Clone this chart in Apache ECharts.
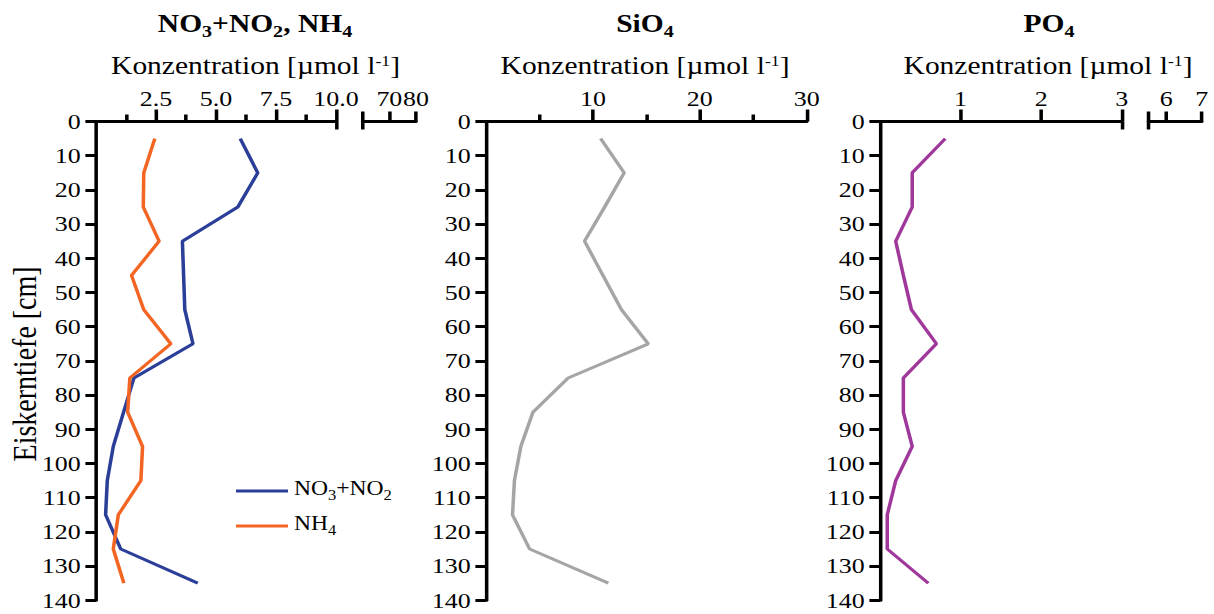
<!DOCTYPE html>
<html>
<head>
<meta charset="utf-8">
<script src="https://cdn.jsdelivr.net/npm/echarts@6/dist/echarts.min.js"></script>
<style>
html,body{margin:0;padding:0;background:#fff;overflow:hidden;}
#wrap{width:1214px;height:614px;overflow:hidden;}
#chart{width:1029px;height:614px;transform:scaleX(1.179786);transform-origin:0 0;}
</style>
</head>
<body>
<div id="wrap"><div id="chart"></div></div>
<script>
// ---- data (depth in cm, concentrations in µmol/l) ----
const depths = [5, 15, 25, 35, 45, 55, 65, 75, 85, 95, 105, 115, 125, 135];
const no3no2 = [6.01, 6.74, 5.91, 3.60, 3.65, 3.70, 4.04, 1.58, 1.15, 0.72, 0.47, 0.40, 1.03, 4.24];
const nh4    = [2.45, 1.99, 1.97, 2.63, 1.48, 1.99, 3.12, 1.41, 1.32, 1.94, 1.87, 0.93, 0.72, 1.16];
const sio4   = [10.72, 12.92, 11.10, 9.22, 10.94, 12.67, 15.18, 7.68, 4.39, 3.26, 2.66, 2.48, 4.08, 11.45];
const po4    = [0.81, 0.40, 0.40, 0.195, 0.29, 0.39, 0.70, 0.29, 0.29, 0.40, 0.195, 0.09, 0.09, 0.60];

// ---- tick labels ----
const nutTicks = [2.5, 5, 7.5, 10];
const nutMinor = [1.25, 3.75, 6.25, 8.75];
const nutBreakTicks = [60, 70, 80];
const nutBreakLabels = [70, 80];
const siTicks = [10, 20, 30];
const siMinor = [5, 15, 25];
const poTicks = [1, 2, 3];
const poBreakTicks = [5.5, 6, 7];
const poBreakLabels = [6, 7];

const S = 1214 / 1029;
const X = v => v / S;
const FONT = '"Liberation Serif", "Times New Roman", serif';
const TOP = 121.5, H = 478.8;

const grids = [
  [96, 336], [362.7, 416], [486, 806.7], [880, 1121.7], [1148.5, 1201.7]
].map(([a, b]) => ({ left: X(a), width: X(b) - X(a), top: TOP, height: H, outerBoundsMode: 'none', containLabel: false }));

function mainX(gi, min, max, ticks, labels, fmt, tickLen) {
  return {
    gridIndex: gi, type: 'value', position: 'top', min, max,
    splitLine: { show: false },
    axisLine: { show: true, onZero: false, lineStyle: { color: '#000', width: 3 } },
    axisTick: { show: true, customValues: ticks, length: tickLen, lineStyle: { color: '#000', width: 3 } },
    axisLabel: { show: true, customValues: labels, margin: 12, color: '#000', fontFamily: FONT, fontSize: 22,
                 formatter: fmt || (v => String(v)) }
  };
}
function extraX(gi, min, max, ticks, len, inside) {
  return {
    gridIndex: gi, type: 'value', position: 'top', min, max,
    splitLine: { show: false },
    axisLine: { show: false, onZero: false },
    axisLabel: { show: false },
    axisTick: { show: true, customValues: ticks, length: len, inside: !!inside, lineStyle: { color: '#000', width: 3 } }
  };
}
function yAx(gi, visible, extra) {
  return Object.assign({
    gridIndex: gi, type: 'value', inverse: true, min: 0, max: 140, interval: 10, show: visible,
    splitLine: { show: false },
    axisLine: { show: visible, onZero: false, lineStyle: { color: '#000', width: 3 } },
    axisTick: { show: visible, length: 9, lineStyle: { color: '#000', width: 3 } },
    axisLabel: { show: visible, margin: 13, color: '#000', fontFamily: FONT, fontSize: 22 }
  }, extra || {});
}

const xAxes = [
  mainX(0, 0, 10, nutTicks, nutTicks, v => v.toFixed(1), 12), // 0
  extraX(0, 0, 10, nutMinor, 7, false),                         // 1
  extraX(0, 0, 10, [10], 8, true),                              // 2
  mainX(1, 60, 80, nutBreakTicks, nutBreakLabels, null, 10),    // 3
  extraX(1, 60, 80, [60], 8, true),                             // 4
  mainX(2, 0, 30, siTicks, siTicks, null, 12),                  // 5
  extraX(2, 0, 30, siMinor, 7, false),                          // 6
  mainX(3, 0, 3, poTicks, poTicks, null, 12),                   // 7
  extraX(3, 0, 3, [3], 8, true),                                // 8
  mainX(4, 5.5, 7, poBreakTicks, poBreakLabels, null, 10),      // 9
  extraX(4, 5.5, 7, [5.5], 8, true)                             // 10
];
const yAxes = [
  yAx(0, true, { name: 'Eiskerntiefe [cm]', nameLocation: 'middle', nameRotate: 90, nameGap: 46,
                 nameMoveOverlap: false,
                 nameTextStyle: { color: '#000', fontFamily: FONT, fontSize: 28, padding: [0, 6, 0, 0] } }),
  yAx(1, false), yAx(2, true), yAx(3, true), yAx(4, false)
];

const pairs = arr => arr.map((v, i) => [v, depths[i]]);
function lineSeries(name, data, xi, yi, color) {
  return { name, type: 'line', xAxisIndex: xi, yAxisIndex: yi, data: pairs(data), symbol: 'none',
           lineStyle: { color, width: 3 }, itemStyle: { color }, silent: true, animation: false };
}

const rich = {
  b:  { fontFamily: FONT, fontSize: 25, fontWeight: 'bold', lineHeight: 30, verticalAlign: 'top', fill: '#000' },
  bs: { fontFamily: FONT, fontSize: 17, fontWeight: 'bold', verticalAlign: 'top', padding: [12, 0, 0, 0], fill: '#000' },
  n:  { fontFamily: FONT, fontSize: 25, lineHeight: 30, verticalAlign: 'top', fill: '#000' },
  sup:{ fontFamily: FONT, fontSize: 15, lineHeight: 20, verticalAlign: 'top', fill: '#000' }
};
function txt(x, y, text) {
  return { type: 'text', x: X(x), y, silent: true,
           style: { text, rich, align: 'center', verticalAlign: 'middle', fill: '#000', fontFamily: FONT, fontSize: 25 } };
}
const axisName = '{n|Konzentration [µmol l}{sup|-1}{n|]}';

const legendRich = {
  m: { fontFamily: FONT, fontSize: 20, lineHeight: 24, verticalAlign: 'top', color: '#000' },
  s: { fontFamily: FONT, fontSize: 14, verticalAlign: 'top', padding: [9, 0, 0, 0], color: '#000' }
};
const legendLabels = { 'NO3+NO2': '{m|NO}{s|3}{m|+NO}{s|2}', 'NH4': '{m|NH}{s|4}' };

const option = {
  animation: false,
  backgroundColor: '#fff',
  grid: grids,
  xAxis: xAxes,
  yAxis: yAxes,
  legend: {
    orient: 'vertical', left: X(236), top: 479, padding: 0,
    itemWidth: X(288) - X(236), itemHeight: 3, itemGap: 12,
    icon: 'rect',
    data: ['NO3+NO2', 'NH4'],
    formatter: n => legendLabels[n],
    textStyle: { color: '#000', fontFamily: FONT, fontSize: 20, rich: legendRich }
  },
  graphic: [
    txt(255, 26, '{b|NO}{bs|3}{b|+NO}{bs|2}{b|, NH}{bs|4}'),
    txt(645, 26, '{b|SiO}{bs|4}'),
    txt(1049, 26, '{b|PO}{bs|4}'),
    txt(255.5, 68, axisName),
    txt(645, 68, axisName),
    txt(1048, 68, axisName)
  ],
  series: [
    lineSeries('NO3+NO2', no3no2, 0, 0, '#2b3f99'),
    lineSeries('NH4', nh4, 0, 0, '#f26522'),
    lineSeries('SiO4', sio4, 5, 2, '#a5a5a5'),
    lineSeries('PO4', po4, 7, 3, '#a0389b')
  ]
};

const chart = echarts.init(document.getElementById('chart'), null, { renderer: 'svg', width: 1029, height: 614 });
chart.setOption(option);
</script>
</body>
</html>
